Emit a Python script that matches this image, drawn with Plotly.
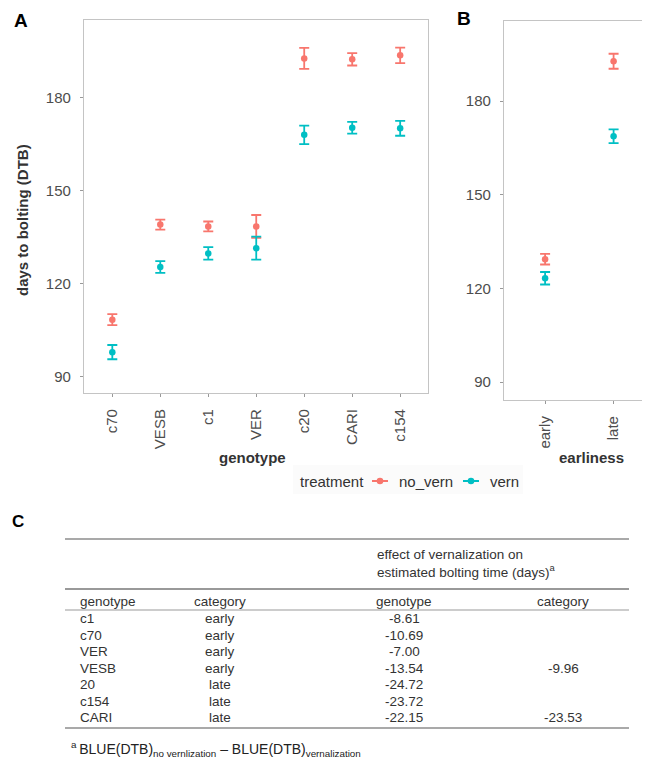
import plotly.graph_objects as go

# ---------------- data ----------------
genotypes = ["c70", "VESB", "c1", "VER", "c20", "CARI", "c154"]
no_vern_mean = [108.3, 139.0, 138.4, 138.4, 192.7, 192.4, 193.7]
no_vern_err = [1.8, 1.6, 1.6, 3.7, 3.4, 2.0, 2.5]
vern_mean = [97.8, 125.3, 129.7, 131.4, 168.0, 170.3, 170.1]
vern_err = [2.3, 1.9, 2.0, 3.7, 3.0, 1.9, 2.4]

earliness = ["early", "late"]
no_vern_e_mean = [129.4, 192.8]
no_vern_e_err = [1.7, 2.4]
vern_e_mean = [123.3, 168.8]
vern_e_err = [2.0, 2.2]

y_ticks = [90, 120, 150, 180]

treatments = ["no_vern", "vern"]

tbl_genotype = ["c1", "c70", "VER", "VESB", "20", "c154", "CARI"]
tbl_category = ["early", "early", "early", "early", "late", "late", "late"]
tbl_eff_genotype = ["-8.61", "-10.69", "-7.00", "-13.54", "-24.72", "-23.72", "-22.15"]
tbl_eff_category = ["", "", "", "-9.96", "", "", "-23.53"]

RED = "#F8766D"
TEAL = "#00BFC4"
COLORS = [RED, TEAL]
W, H = 650, 768
FONT = "Liberation Sans, Arial, sans-serif"


def px(x):
    return x / W


def py(y):
    return 1 - y / H


fig = go.Figure()

MS = 6.5
EB = dict(type="data", thickness=1.8, width=5)

xa = list(range(len(genotypes)))
for mean, err, col in [(no_vern_mean, no_vern_err, RED), (vern_mean, vern_err, TEAL)]:
    fig.add_trace(go.Scatter(x=xa, y=mean, mode="markers", xaxis="x", yaxis="y",
                             marker=dict(color=col, size=MS),
                             error_y=dict(array=err, color=col, **EB), showlegend=False))
xb = list(range(len(earliness)))
for mean, err, col in [(no_vern_e_mean, no_vern_e_err, RED), (vern_e_mean, vern_e_err, TEAL)]:
    fig.add_trace(go.Scatter(x=xb, y=mean, mode="markers", xaxis="x2", yaxis="y2",
                             marker=dict(color=col, size=MS),
                             error_y=dict(array=err, color=col, **EB), showlegend=False))

axis_common = dict(showline=True, mirror=True, linecolor="#C4C4C4", linewidth=1.2,
                   showgrid=False, zeroline=False, ticks="outside", ticklen=3,
                   tickcolor="#999999", ticklabelstandoff=6,
                   tickfont=dict(size=15, color="#4D4D4D", family=FONT))

fig.update_layout(
    width=W, height=H, margin=dict(l=0, r=0, t=0, b=0),
    paper_bgcolor="white", plot_bgcolor="white",
    font=dict(family=FONT, color="#333333"), showlegend=False,
    xaxis=dict(domain=[px(76), px(420)], range=[-0.59, 6.58], tickvals=xa, ticktext=genotypes,
               tickangle=-90, anchor="y", **axis_common),
    yaxis=dict(domain=[py(385), py(12)], range=[84.6, 205.1], tickvals=y_ticks, anchor="x",
               **axis_common),
    xaxis2=dict(domain=[px(496), px(646)], range=[-0.6, 1.59], tickvals=xb, ticktext=earliness,
                tickangle=-90, anchor="y2", **axis_common),
    yaxis2=dict(domain=[py(392), py(13.3)], range=[84.3, 205.6], tickvals=y_ticks, anchor="x2",
                **axis_common),
)

ann = []
shapes = []
# panel labels
ann.append(dict(text="<b>A</b>", x=px(4), y=py(12), xanchor="left", yanchor="middle", font=dict(size=19, color="black")))
ann.append(dict(text="<b>B</b>", x=px(447), y=py(10), xanchor="left", yanchor="middle", font=dict(size=19, color="black")))
ann.append(dict(text="<b>C</b>", x=px(2), y=py(513), xanchor="left", yanchor="middle", font=dict(size=17, color="black")))
# axis titles
ann.append(dict(text="<b>days to bolting (DTB)</b>", x=px(14), y=py(212), textangle=-90,
                xanchor="center", yanchor="middle", font=dict(size=15, color="#333333")))
ann.append(dict(text="<b>genotype</b>", x=px(244), y=py(449), xanchor="center", yanchor="middle",
                font=dict(size=15, color="#333333")))
ann.append(dict(text="<b>earliness</b>", x=px(583), y=py(449), xanchor="center", yanchor="middle",
                font=dict(size=15, color="#333333")))

# legend (drawn by hand to match ggplot key spacing)
LY = 473
shapes.append(dict(type="rect", xref="paper", yref="paper", x0=px(285), x1=px(515), y0=py(486), y1=py(457),
                   fillcolor="#FBFBFB", line=dict(width=0), layer="below"))
ann.append(dict(text="treatment", x=px(290), y=py(LY), xanchor="left", yanchor="middle",
                font=dict(size=15, color="#333333")))
key_x = [372, 463]
for name, col, kx in zip(treatments, COLORS, key_x):
    shapes.append(dict(type="line", xref="paper", yref="paper", x0=px(kx - 8), x1=px(kx + 8),
                       y0=py(LY), y1=py(LY), line=dict(color=col, width=2)))
    shapes.append(dict(type="circle", xref="paper", yref="paper", x0=px(kx - 3.3), x1=px(kx + 3.3),
                       y0=py(LY + 3.3), y1=py(LY - 3.3), fillcolor=col, line=dict(color=col, width=0)))
    ann.append(dict(text=name, x=px(kx + 17), y=py(LY), xanchor="left", yanchor="middle",
                    font=dict(size=15, color="#333333")))

# table
TF = dict(size=13.5, color="#333333", family=FONT)
ann.append(dict(text="effect of vernalization on", x=px(367), y=py(546), xanchor="left", yanchor="middle", font=TF))
ann.append(dict(text="estimated bolting time (days)<sup>a</sup>", x=px(367), y=py(563), xanchor="left", yanchor="middle", font=TF))
HY = 593
ann.append(dict(text="genotype", x=px(70), y=py(HY), xanchor="left", yanchor="middle", font=TF))
ann.append(dict(text="category", x=px(212), y=py(HY), xanchor="center", yanchor="middle", font=TF))
ann.append(dict(text="genotype", x=px(396), y=py(HY), xanchor="center", yanchor="middle", font=TF))
ann.append(dict(text="category", x=px(555), y=py(HY), xanchor="center", yanchor="middle", font=TF))
row0, dr = 610.5, 16.5
for i in range(len(tbl_genotype)):
    yy = py(row0 + dr * i)
    ann.append(dict(text=tbl_genotype[i], x=px(70), y=yy, xanchor="left", yanchor="middle", font=TF))
    ann.append(dict(text=tbl_category[i], x=px(212), y=yy, xanchor="center", yanchor="middle", font=TF))
    ann.append(dict(text=tbl_eff_genotype[i], x=px(396), y=yy, xanchor="center", yanchor="middle", font=TF))
    if tbl_eff_category[i]:
        ann.append(dict(text=tbl_eff_category[i], x=px(555), y=yy, xanchor="center", yanchor="middle", font=TF))
ann.append(dict(text="<sup>a </sup>BLUE(DTB)<sub>no vernlization</sub> \u2013 BLUE(DTB)<sub>vernalization</sub>",
                x=px(61), y=py(741), xanchor="left", yanchor="middle",
                font=dict(size=14, color="#222222", family=FONT)))
for a in ann:
    a.update(xref="paper", yref="paper", showarrow=False)

for yline, col, wd in [(531, "#555555", 1.2), (581, "#999999", 2), (602, "#999999", 1.2), (720, "#555555", 1.2)]:
    shapes.append(dict(type="line", xref="paper", yref="paper", x0=px(57), x1=px(621),
                       y0=py(yline), y1=py(yline), line=dict(color=col, width=wd)))
fig.update_layout(annotations=ann, shapes=shapes)

fig.write_html("out.html")
